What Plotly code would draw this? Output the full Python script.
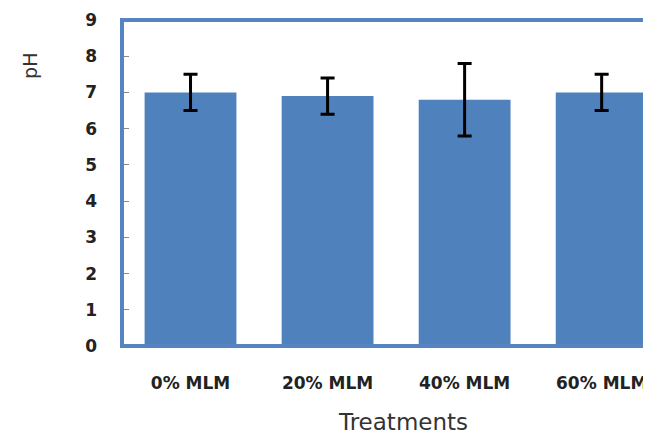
import plotly.graph_objects as go

categories = ["0% MLM", "20% MLM", "40% MLM", "60% MLM"]
ph_values = [7.0, 6.9, 6.8, 7.0]
ph_errors = [0.5, 0.5, 1.0, 0.5]
y_ticks = [0, 1, 2, 3, 4, 5, 6, 7, 8, 9]

BLUE = "#4F81BD"
BORDER = "#5585C0"

fig = go.Figure()
fig.add_trace(go.Bar(
    x=list(range(len(categories))),
    y=ph_values,
    width=0.67,
    marker=dict(color=BLUE, line=dict(width=0)),
    error_y=dict(type="data", array=ph_errors, visible=True,
                 color="black", thickness=3, width=7),
))

fig.update_layout(
    width=643, height=426,
    margin=dict(l=114, r=0, t=12, b=88),
    paper_bgcolor="white", plot_bgcolor="white",
    showlegend=False,
    xaxis=dict(
        range=[-0.5, 3.36],
        tickmode="array",
        tickvals=list(range(len(categories))),
        ticktext=categories,
        showgrid=False, zeroline=False,
        showline=False,
        ticks="",
        tickfont=dict(family="DejaVu Sans", size=17, color="#222222", weight="bold"),
        ticklabelstandoff=25,
    ),
    yaxis=dict(
        range=[0, 9],
        tickmode="array",
        tickvals=y_ticks,
        showgrid=False, zeroline=False,
        showline=False,
        ticks="inside", ticklen=7, tickcolor="#8a8a8a", tickwidth=1,
        tickfont=dict(family="DejaVu Sans", size=17, color="#222222", weight="bold"),
        ticklabelstandoff=24,
    ),
    shapes=[
        dict(type="rect", xref="paper", yref="paper", x0=0, x1=1.2, y0=0, y1=1,
             line=dict(color=BORDER, width=4), layer="above"),
    ],
    annotations=[
        dict(text="pH", xref="paper", yref="paper", x=-0.174, y=0.859,
             xanchor="center", yanchor="middle", showarrow=False, textangle=-90,
             font=dict(family="DejaVu Sans", size=19, color="#333333")),
        dict(text="Treatments", xref="paper", yref="paper", x=0.531, y=-0.232,
             xanchor="center", yanchor="middle", showarrow=False,
             font=dict(family="DejaVu Sans", size=23, color="#333333")),
    ],
)

fig.write_html("out.html")
